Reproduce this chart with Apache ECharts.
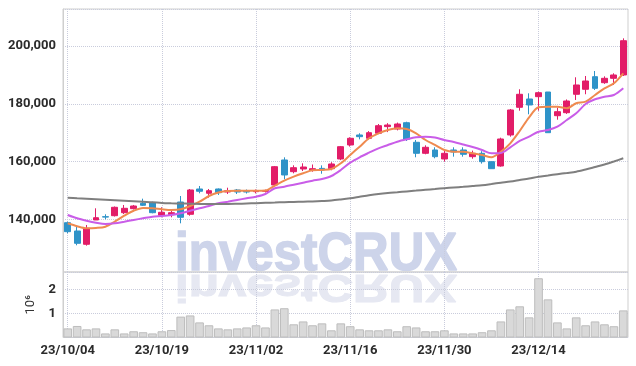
<!DOCTYPE html>
<html>
<head>
<meta charset="utf-8">
<script src="https://cdn.jsdelivr.net/npm/echarts@6/dist/echarts.min.js"></script>
<style>
  html, body { margin: 0; padding: 0; background: #fff; }
  #chart { width: 636px; height: 366px; }
</style>
</head>
<body>
<div id="chart"></div>
<script>
// trading days (yy/mm/dd)
var dates = ['23/10/04','23/10/05','23/10/06','23/10/10','23/10/11','23/10/12','23/10/13','23/10/16','23/10/17','23/10/18',
  '23/10/19','23/10/20','23/10/23','23/10/24','23/10/25','23/10/26','23/10/27','23/10/30','23/10/31','23/11/01',
  '23/11/02','23/11/03','23/11/06','23/11/07','23/11/08','23/11/09','23/11/10','23/11/13','23/11/14','23/11/15',
  '23/11/16','23/11/17','23/11/20','23/11/21','23/11/22','23/11/23','23/11/24','23/11/27','23/11/28','23/11/29',
  '23/11/30','23/12/01','23/12/04','23/12/05','23/12/06','23/12/07','23/12/08','23/12/11','23/12/12','23/12/13',
  '23/12/14','23/12/15','23/12/18','23/12/19','23/12/20','23/12/21','23/12/22','23/12/26','23/12/27','23/12/28'];

var opens = [138860,135990,131390,139800,140940,141280,142320,143710,145570,145780,
  141420,141630,146020,141770,150520,149030,150520,149480,150180,149830,
  149590,149700,151910,160560,156510,157440,157000,157650,157550,160900,
  165750,169210,168060,169800,172100,171280,173460,166680,162870,164020,
  160900,164020,164020,161700,162870,159970,158480,169210,178790,181660,
  182460,184080,175880,176920,183290,185020,189380,187300,188820,189970];
var closes = [135750,131730,136920,140590,140800,144190,143840,144640,144880,142320,
  142460,142320,140730,150180,149730,149930,149240,149930,149480,149480,
  149930,150000,158240,155370,157890,158130,157550,157100,159170,165160,
  168060,168620,170000,172420,172660,173010,167720,162870,164950,161700,
  162870,163320,162530,162870,159970,157550,167820,177860,183290,179590,
  183840,170000,177270,180970,186510,187890,185360,188820,189970,201830];
var lows = [135190,131040,130910,139800,140040,141000,141870,143430,144640,142110,
  140730,140730,138650,141280,149030,147510,148450,148790,148790,148950,
  149000,149300,151660,153880,155950,156750,156500,155800,157000,160500,
  165200,167700,167700,169500,170200,170800,167130,161490,162530,161140,
  160000,161700,161700,161000,159300,157550,158240,168620,177610,176370,
  177610,170000,174500,176500,181320,183300,184780,186900,186510,189620];
var highs = [139210,137720,138070,143840,141770,144470,144990,144990,147170,146130,
  144190,143260,148100,150520,151560,150520,150700,150970,150520,150350,
  150350,150300,158480,161480,158720,159410,159000,158700,159800,165400,
  168400,169800,170550,173000,173300,173500,173800,167480,165640,164950,
  163740,164950,164950,163800,163600,159970,168270,178200,185020,183630,
  184190,184080,178650,181500,189170,189620,191350,189500,190550,202650];

// moving averages
var ma5 = [138650,137620,136920,137030,137480,139210,141280,143010,143950,143840,
  143500,143260,143500,144640,146130,148100,149310,149830,149900,149900,
  149900,150000,151700,153390,154780,155950,156990,157100,157440,159410,
  162290,165160,168060,169790,170940,171520,171280,169790,167480,165750,
  164020,163430,163430,162870,162290,161490,163430,166330,170590,175330,
  178790,179000,179000,178440,180170,180730,183050,185360,187090,190550];
var ma20 = [141530,140380,139550,138860,138410,138650,139210,139800,140380,140940,
  141180,141530,142110,143010,143840,144640,145570,146130,146720,147300,
  147860,148790,150760,151320,152010,152700,153390,153980,155020,157100,
  159620,161490,163080,164600,165750,166890,167720,168410,168620,168340,
  167480,166780,165920,165050,164020,162870,162980,164950,167130,168620,
  170350,170940,172080,174400,176710,179930,181560,182460,183050,185360];
var ma120 = [147510,147300,147130,146960,146790,146610,146440,146270,146090,145920,
  145680,145570,145500,145440,145370,145330,145330,145330,145400,145500,
  145610,145750,145850,145950,146020,146130,146230,146370,146540,146890,
  147300,147820,148340,148790,149140,149410,149690,149970,150250,150520,
  150800,151040,151280,151560,151840,152250,152700,153120,153640,154160,
  154780,155190,155640,156060,156510,157270,158130,159000,160040,161140];

// volume in units of 10^6
var volumes = [0.38,0.48,0.34,0.38,0.17,0.34,0.17,0.26,0.22,0.17,
  0.26,0.31,0.87,0.92,0.63,0.51,0.38,0.34,0.38,0.42,
  0.51,0.42,1.17,1.22,0.55,0.67,0.51,0.59,0.30,0.59,
  0.47,0.34,0.30,0.30,0.34,0.26,0.47,0.42,0.26,0.26,
  0.30,0.17,0.17,0.17,0.22,0.30,0.67,1.17,1.30,0.84,
  2.47,1.59,0.63,0.38,0.84,0.51,0.67,0.55,0.47,1.13];

var candles = dates.map(function (d, i) {
    return [opens[i], closes[i], lows[i], highs[i]];
});

var labelFont = { fontFamily: 'Roboto', fontSize: 13, fontWeight: 'bold', color: '#2b2b2b' };
var splitStyle = { color: '#c9ccdc', type: 'dotted', width: 1 };
var wmFont = 'bold 53px "Liberation Sans"';

var chart = echarts.init(document.getElementById('chart'));

var option = {
    animation: false,
    backgroundColor: '#fff',
    grid: [
        { left: 63, right: 8, top: 9, height: 263, show: true, borderColor: '#cfcfcf', borderWidth: 1 },
        { left: 63, right: 8, top: 272, height: 65.5, show: true, borderColor: '#cfcfcf', borderWidth: 1 }
    ],
    // watermark + its reflection, behind everything
    graphic: [
        {
            type: 'group', x: 175, y: 271.5, scaleX: 0.93, z: -5,
            children: [{
                type: 'text', x: 0, y: -16, z: -5, silent: true,
                style: { text: 'investCRUX', font: wmFont, fill: '#cdd4ea', stroke: '#cdd4ea', lineWidth: 1.5, verticalAlign: 'middle' }
            }]
        },
        {
            type: 'group', x: 175, y: 274, scaleX: 0.93, scaleY: -0.72, z: -5,
            children: [{
                type: 'text', x: 0, y: -16, z: -5, silent: true,
                style: { text: 'investCRUX', font: wmFont, fill: '#e6e8f2', stroke: '#e6e8f2', lineWidth: 1.5, verticalAlign: 'middle' }
            }]
        }
    ],
    xAxis: [
        {
            type: 'category', gridIndex: 0, data: dates,
            axisLine: { show: false }, axisTick: { show: false }, axisLabel: { show: false },
            splitLine: { show: true, interval: 9, alignWithLabel: true, lineStyle: splitStyle }
        },
        {
            type: 'category', gridIndex: 1, data: dates,
            axisLine: { show: false }, axisTick: { show: false },
            axisLabel: Object.assign({ interval: 9, margin: 7 }, labelFont),
            splitLine: { show: true, interval: 9, alignWithLabel: true, lineStyle: splitStyle }
        }
    ],
    yAxis: [
        {
            type: 'value', gridIndex: 0, min: 121800, max: 212800, scale: true,
            axisLine: { show: true, lineStyle: { color: '#cfcfcf' } }, axisTick: { show: false },
            axisLabel: Object.assign({
                showMinLabel: false, showMaxLabel: false, margin: 7,
                formatter: function (v) { return v.toLocaleString('en-US'); }
            }, labelFont),
            splitLine: { show: true, lineStyle: splitStyle }
        },
        {
            type: 'value', gridIndex: 1, min: 0, max: 2.73, interval: 1,
            name: '10⁶', nameLocation: 'middle', nameRotate: 90, nameGap: 24,
            nameTextStyle: { fontFamily: 'Roboto', fontSize: 13, color: '#333' },
            axisLine: { show: true, lineStyle: { color: '#cfcfcf' } }, axisTick: { show: false },
            axisLabel: Object.assign({ showMinLabel: false, showMaxLabel: false, margin: 7 }, labelFont),
            splitLine: { show: true, lineStyle: splitStyle }
        }
    ],
    series: [
        {
            name: 'price', type: 'candlestick', xAxisIndex: 0, yAxisIndex: 0,
            data: candles, barWidth: '68%',
            itemStyle: {
                color: '#e21d68', color0: '#2e93c8',
                borderColor: '#e21d68', borderColor0: '#2e93c8', borderWidth: 1
            }
        },
        {
            name: 'MA5', type: 'line', xAxisIndex: 0, yAxisIndex: 0, data: ma5,
            showSymbol: false, smooth: 0.3, lineStyle: { width: 2, color: '#ef8a4f' }, z: 3
        },
        {
            name: 'MA20', type: 'line', xAxisIndex: 0, yAxisIndex: 0, data: ma20,
            showSymbol: false, smooth: 0.3, lineStyle: { width: 2, color: '#c95de8' }, z: 3
        },
        {
            name: 'MA120', type: 'line', xAxisIndex: 0, yAxisIndex: 0, data: ma120,
            showSymbol: false, smooth: 0.3, lineStyle: { width: 2, color: '#7f7f7f' }, z: 3
        },
        {
            name: 'volume', type: 'bar', xAxisIndex: 1, yAxisIndex: 1, data: volumes,
            barCategoryGap: '8%',
            itemStyle: { color: '#d9d9d9', borderColor: '#bdbdbd', borderWidth: 1 }
        }
    ]
};

chart.setOption(option);
</script>
</body>
</html>
